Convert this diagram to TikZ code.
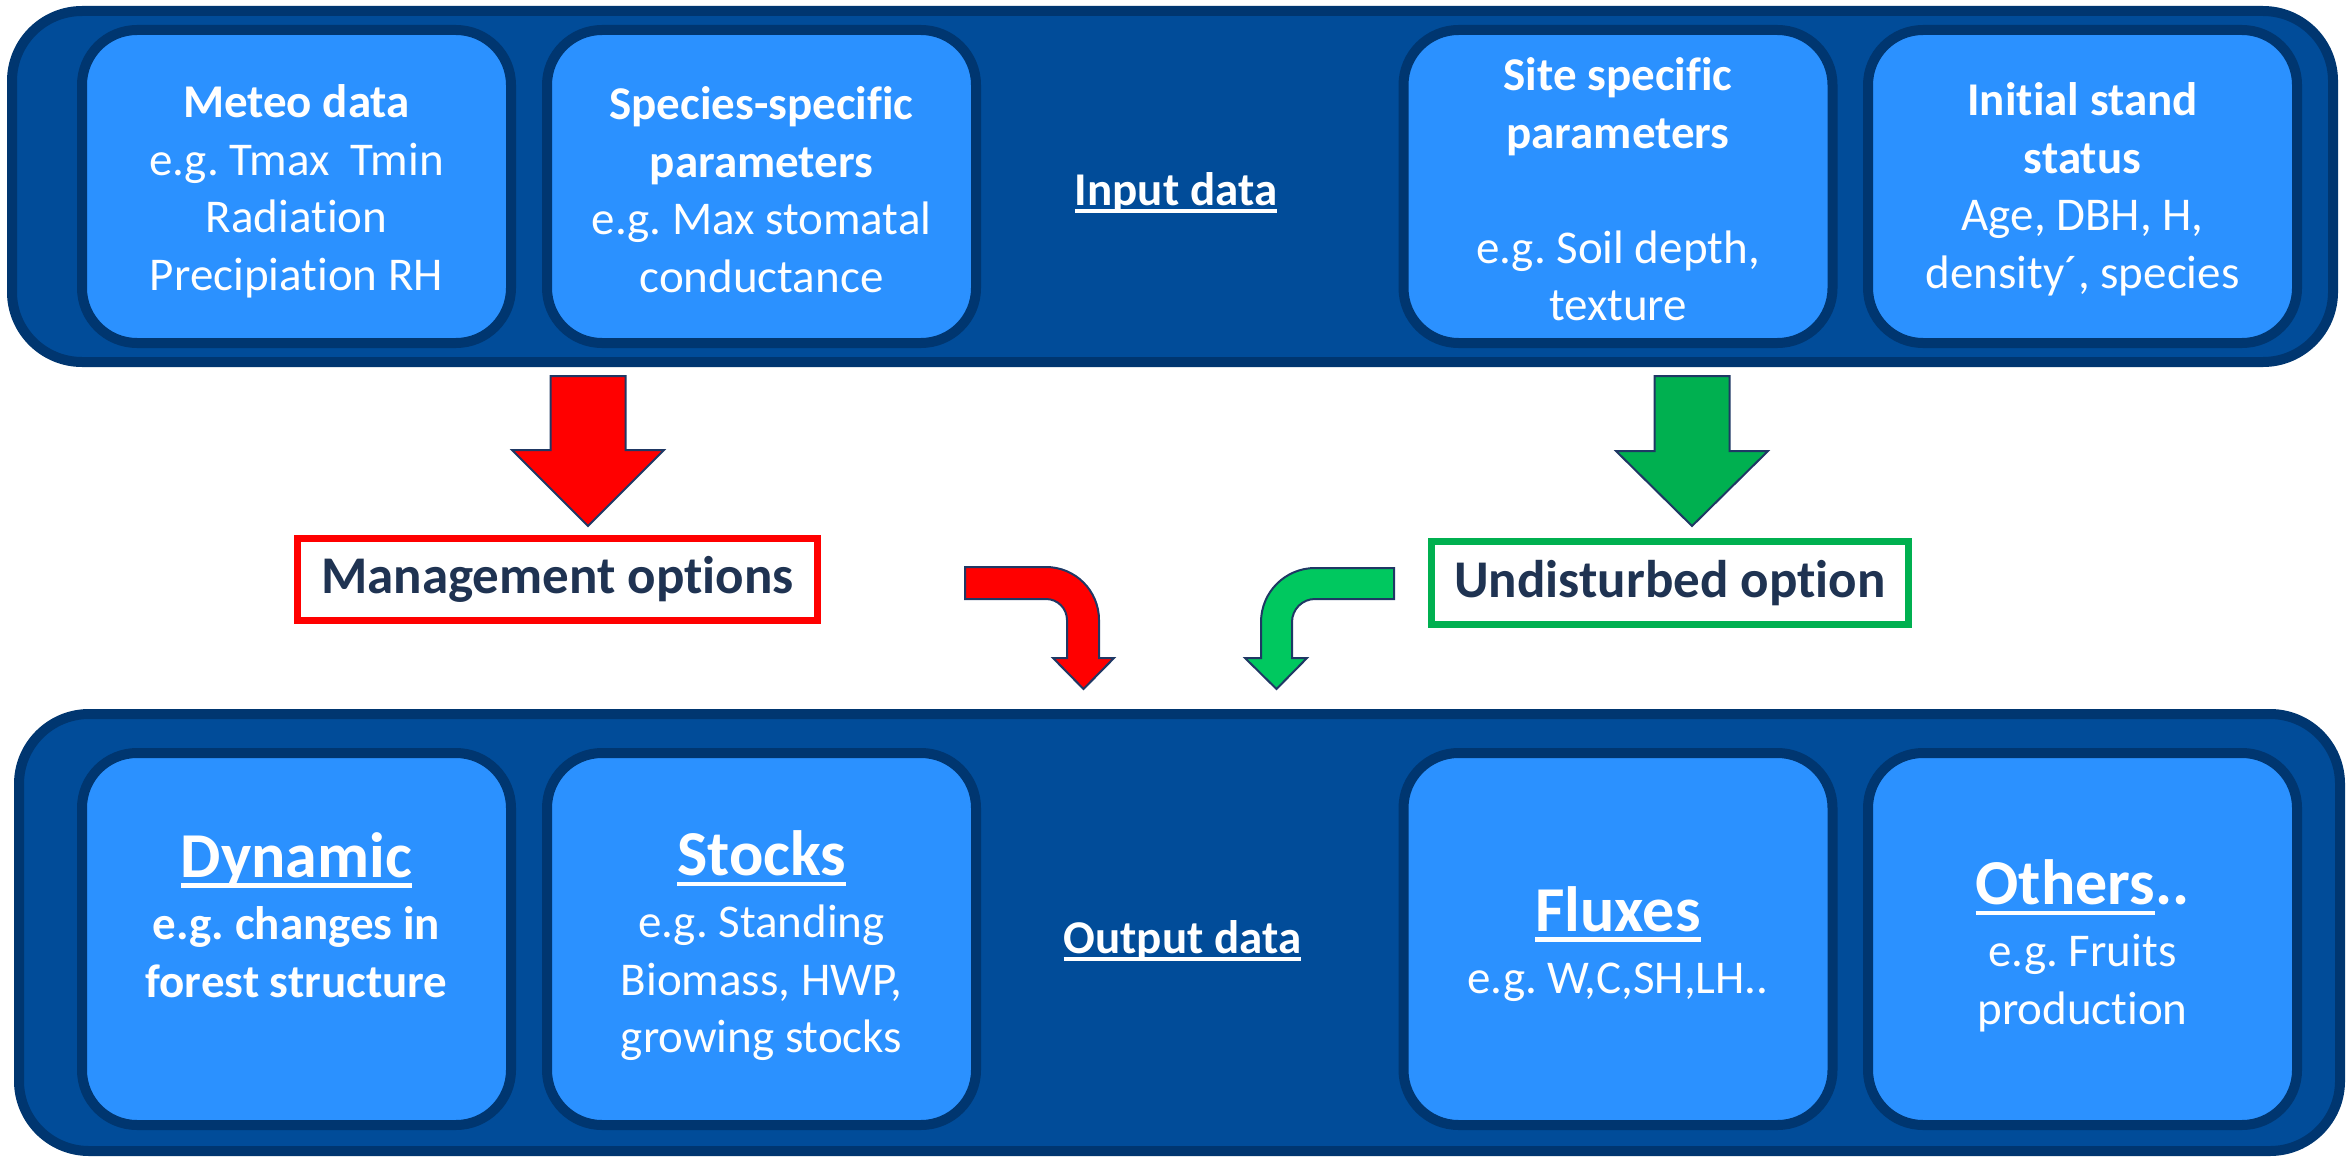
\documentclass[tikz,border=0pt]{standalone}
\usepackage{fontspec}
\setmainfont{Carlito}[Ligatures=NoCommon]
\frenchspacing
\definecolor{panelfill}{RGB}{1,76,153}
\definecolor{paneldark}{RGB}{0,54,112}
\definecolor{boxfill}{RGB}{43,145,255}
\definecolor{navytext}{RGB}{31,51,82}
\definecolor{arrowline}{RGB}{31,56,100}
\definecolor{redc}{RGB}{255,0,0}
\definecolor{greenbig}{RGB}{0,176,80}
\definecolor{greenlite}{RGB}{0,200,95}
\newcommand{\myul}[1]{\leavevmode\setbox0=\hbox{#1}\rlap{\rule[-0.165em]{\wd0}{0.075em}}\box0}
\newcommand{\ttl}[1]{{\fontsize{64}{62}\selectfont\bfseries\myul{#1}}}
\begin{document}
\begin{tikzpicture}[x=1pt,y=-1pt,
  panel/.style={draw=paneldark, fill=panelfill, line width=10pt, rounded corners=70pt,
    minimum width=2321pt, inner sep=0pt},
  databox/.style={draw=paneldark, fill=boxfill, line width=10pt, rounded corners=55pt,
    minimum width=429pt, inner sep=0pt},
  toprow/.style={databox, minimum height=313pt},
  botrow/.style={databox, minimum height=372pt},
  boxtext/.style={inner sep=0pt, text=white, align=center,
    font=\fontsize{47}{57.5}\selectfont},
  optbox/.style={fill=white, line width=7pt, inner sep=0pt, text=navytext,
    font=\fontsize{53}{60}\selectfont\bfseries},
  label/.style={anchor=base, text=white, font=\fontsize{47}{57.5}\selectfont\bfseries},
  blockarrow/.style={draw=arrowline, line width=2pt, line join=miter}
]
\useasboundingbox (0,0) rectangle (2349,1156);

% panels
\node[panel, minimum height=351pt] (inpanel) at (1172.5,186.5) {};
\node[panel, minimum height=437pt] (outpanel) at (1179.5,932.5) {};

% input boxes
\node[toprow] (meteo) at (296.5,186.5) {};
\node[toprow] (species) at (761.5,186.5) {};
\node[toprow] (site) at (1618,186.5) {};
\node[toprow] (initial) at (2082.5,186.5) {};
\node[boxtext] (meteoT) at ([yshift=-5pt]meteo.center)
  {\textbf{Meteo data}\\e.g. Tmax\ \ Tmin\\Radiation\\Precipiation RH};
\node[boxtext] (speciesT) at ([yshift=-3pt]species.center)
  {\textbf{Species-specific}\\\textbf{parameters}\\e.g. Max stomatal\\conductance};
\node[boxtext] (siteT) at ([yshift=-3pt]site.center)
  {\textbf{Site specific}\\\textbf{parameters}\\[57.5pt]e.g. Soil depth,\\texture};
\node[boxtext] (initialT) at ([yshift=-3pt]initial.center)
  {\textbf{Initial stand}\\\textbf{status}\\Age, DBH, H,\\density´, species};
\node[label] (inlabel) at (1176,205) {\myul{Input data}};

% output boxes
\node[botrow] (dynamic) at (296.5,939) {};
\node[botrow] (stocks) at (761.5,939) {};
\node[botrow] (fluxes) at (1618,939) {};
\node[botrow] (others) at (2082.5,939) {};
\node[boxtext] (dynamicT) at ([yshift=24pt]dynamic.center)
  {\ttl{Dynamic}\\[4.5pt]\textbf{e.g. changes in}\\\textbf{forest structure}};
\node[boxtext] (stocksT) at ([yshift=-7pt]stocks.center)
  {\ttl{Stocks}\\[4.5pt]e.g. Standing\\Biomass, HWP,\\growing stocks};
\node[boxtext] (fluxesT) at ([yshift=-5pt]fluxes.center)
  {\ttl{Fluxes}\\[4.5pt]e.g. W,C,SH,LH..};
\node[boxtext] (othersT) at ([yshift=-7pt]others.center)
  {{\fontsize{64}{62}\selectfont\bfseries\myul{Others}..}\\[4.5pt]e.g. Fruits\\production};
\node[label] (outlabel) at (1182.5,953) {\myul{Output data}};

% option boxes
\node[optbox, draw=redc, minimum width=520pt, minimum height=82pt] (mgmt) at (557.5,579.5)
  {Management options};
\node[optbox, draw=greenbig, minimum width=477pt, minimum height=83pt] (undist) at (1670,583)
  {Undisturbed option};

% big down arrows
\path[blockarrow, fill=redc] (550.5,376) -- (625.5,376) -- (625.5,450) -- (664,450)
  -- (588,526) -- (512,450) -- (550.5,450) -- cycle;
\path[blockarrow, fill=greenbig] (1654.5,376) -- (1729.5,376) -- (1729.5,451) -- (1768,451)
  -- (1692,526) -- (1616,451) -- (1654.5,451) -- cycle;

% bent arrows
\path[blockarrow, fill=redc] (965,567) -- (1046,567)
  .. controls (1075.3,567) and (1099,590.7) .. (1099,620)
  -- (1099,658) -- (1114,658) -- (1083.5,689) -- (1053,658) -- (1067,658) -- (1067,620)
  .. controls (1067,608.4) and (1057.6,599) .. (1046,599)
  -- (965,599) -- cycle;
\path[blockarrow, fill=greenlite] (1394,568) -- (1315,568)
  .. controls (1285.2,568) and (1261,592.2) .. (1261,622)
  -- (1261,658) -- (1245,658) -- (1276.5,689) -- (1307,658) -- (1292,658) -- (1292,622)
  .. controls (1292,609.3) and (1302.3,599) .. (1315,599)
  -- (1394,599) -- cycle;
\end{tikzpicture}
\end{document}
